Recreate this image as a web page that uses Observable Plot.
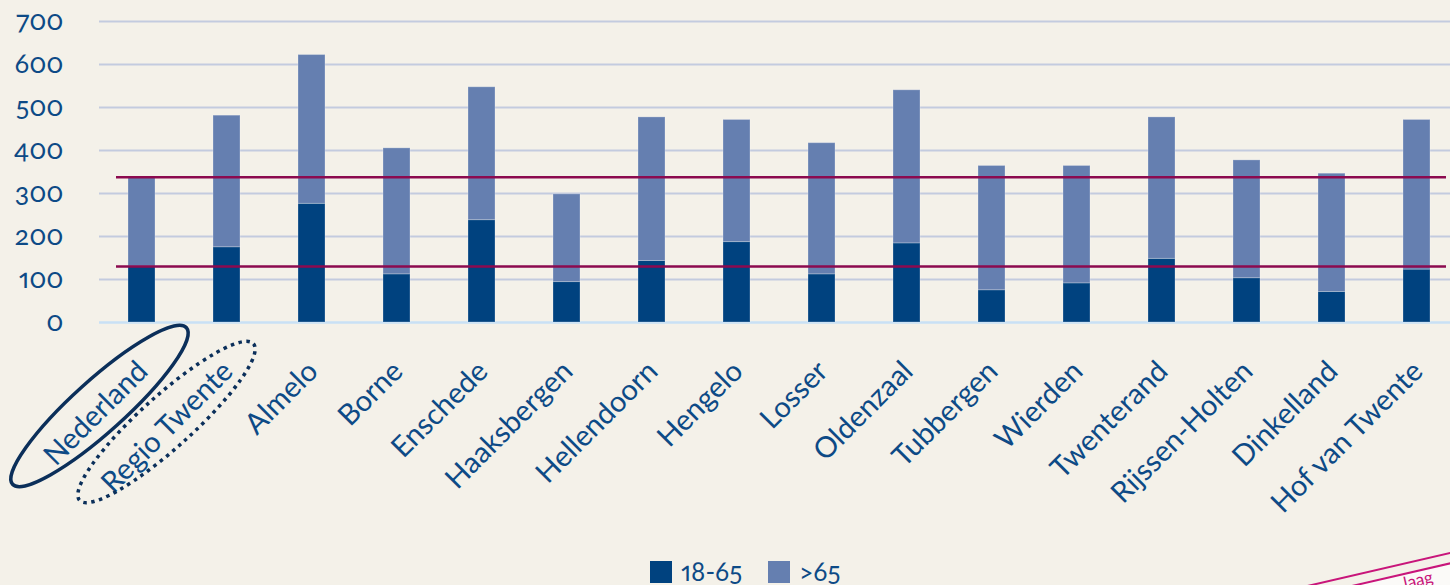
<!DOCTYPE html>
<html>
<head>
<meta charset="utf-8">
<script src="https://cdn.jsdelivr.net/npm/d3@7"></script>
<script src="https://cdn.jsdelivr.net/npm/@observablehq/plot@0.6"></script>
<style>
  html, body { margin: 0; padding: 0; background: #f4f1e9; width: 1450px; height: 585px; overflow: hidden; position: relative; }
  svg text { font-variant-numeric: oldstyle-nums proportional-nums; }
  #legend { display: flex; align-items: flex-start; height: 29px; padding-left: 650px; box-sizing: border-box; padding-top: 5px;
            font-family: Lato, sans-serif; font-size: 26px; color: #0d4a86; font-variant-numeric: oldstyle-nums proportional-nums; line-height: 21px; }
  #legend .sw { width: 22px; height: 22px; margin-right: 9px; }
  #legend .item { display: flex; align-items: flex-start; margin-right: 26px; }
  #stamp { position: absolute; left: 1290px; top: 589px; transform-origin: 0 0; transform: rotate(-13deg);
           border-top: 2.5px solid #c8157a; padding-top: 8px; width: 260px; }
  #stamp div { background: #fbfaf8; border-top: 2.5px solid #c8157a; height: 60px; color: #c8157a;
               font-family: Lato, sans-serif; font-size: 17px; line-height: 15px; padding-left: 112px; padding-top: 0px; box-sizing: border-box; }
</style>
</head>
<body>
<div id="chart"></div>
<div id="legend"></div>
<div id="stamp"><div>laag</div></div>
<script>
const categories = ["Nederland", "Regio Twente", "Almelo", "Borne", "Enschede", "Haaksbergen", "Hellendoorn", "Hengelo",
  "Losser", "Oldenzaal", "Tubbergen", "Wierden", "Twenterand", "Rijssen-Holten", "Dinkelland", "Hof van Twente"];
const values1865 = [130, 175, 276, 112, 238, 94, 143, 187, 112, 184, 75, 91, 148, 103, 71, 123];
const valuesOver65 = [208, 306, 346, 293, 309, 204, 334, 284, 305, 356, 289, 273, 329, 274, 275, 348];
const seriesNames = ["18-65", ">65"];
const seriesColors = ["#00427f", "#657fb0"];
const yTicks = [0, 100, 200, 300, 400, 500, 600, 700];

const rows = [];
categories.forEach((c, i) => {
  rows.push({cat: c, series: seriesNames[0], value: values1865[i]});
  rows.push({cat: c, series: seriesNames[1], value: valuesOver65[i]});
});
// reference lines at the Nederland levels
const nlLines = [values1865[0], values1865[0] + valuesOver65[0]];

const chart = Plot.plot({
  width: 1450,
  height: 556,
  marginLeft: 99,
  marginRight: 0,
  marginTop: 21,
  marginBottom: 234,
  style: {background: "transparent", fontFamily: "Lato, sans-serif", color: "#0d4a86", overflow: "visible"},
  x: {domain: categories, range: [99, 1459], paddingInner: 0.68, paddingOuter: 0.34, label: null},
  y: {domain: [0, 700], label: null},
  color: {domain: seriesNames, range: seriesColors},
  marks: [
    Plot.ruleY(yTicks.filter(d => d > 0), {stroke: "#c3cbdf", strokeWidth: 2}),
    Plot.ruleY([0], {stroke: "#c9e0f5", strokeWidth: 2.5}),
    Plot.barY(rows, {x: "cat", y: "value", fill: "series", stroke: "#ffffff", strokeOpacity: 0.25, strokeWidth: 1}),
    Plot.ruleY(nlLines, {stroke: "#8c0a4f", strokeWidth: 2.5, insetLeft: 17, insetRight: 4}),
    Plot.axisY({ticks: yTicks, tickSize: 0, tickPadding: 36, fontSize: 27, tickFormat: d => String(d), label: null}),
    Plot.axisX({tickSize: 0, tickRotate: -45, tickPadding: 22, dy: 22, dx: 1, fontSize: 29, label: null})
  ]
});
document.getElementById("chart").appendChild(chart);

// annotation ellipses around the first two labels
const xs = chart.scale("x"), ys = chart.scale("y");
const svg = d3.select(chart);
const bw = xs.bandwidth;
const ann = [
  {cat: categories[0], dx: -42, dy: 84, dash: null},
  {cat: categories[1], dx: -60, dy: 100, dash: "3.5 4.5"}
];
ann.forEach(a => {
  const cx = xs.apply(a.cat) + bw / 2 + a.dx;
  const cy = ys.apply(0) + a.dy;
  const e = svg.append("ellipse")
    .attr("transform", `translate(${cx},${cy}) rotate(-42)`)
    .attr("rx", 117).attr("ry", 26)
    .attr("fill", "none").attr("stroke", "#0b2f5a").attr("stroke-width", 3.5);
  if (a.dash) e.attr("stroke-dasharray", a.dash);
});

// legend
const lg = document.getElementById("legend");
seriesNames.forEach((s, i) => {
  const it = document.createElement("div");
  it.className = "item";
  const sw = document.createElement("div");
  sw.className = "sw";
  sw.style.background = seriesColors[i];
  const t = document.createElement("span");
  t.textContent = s;
  it.appendChild(sw);
  it.appendChild(t);
  lg.appendChild(it);
});
</script>
</body>
</html>
